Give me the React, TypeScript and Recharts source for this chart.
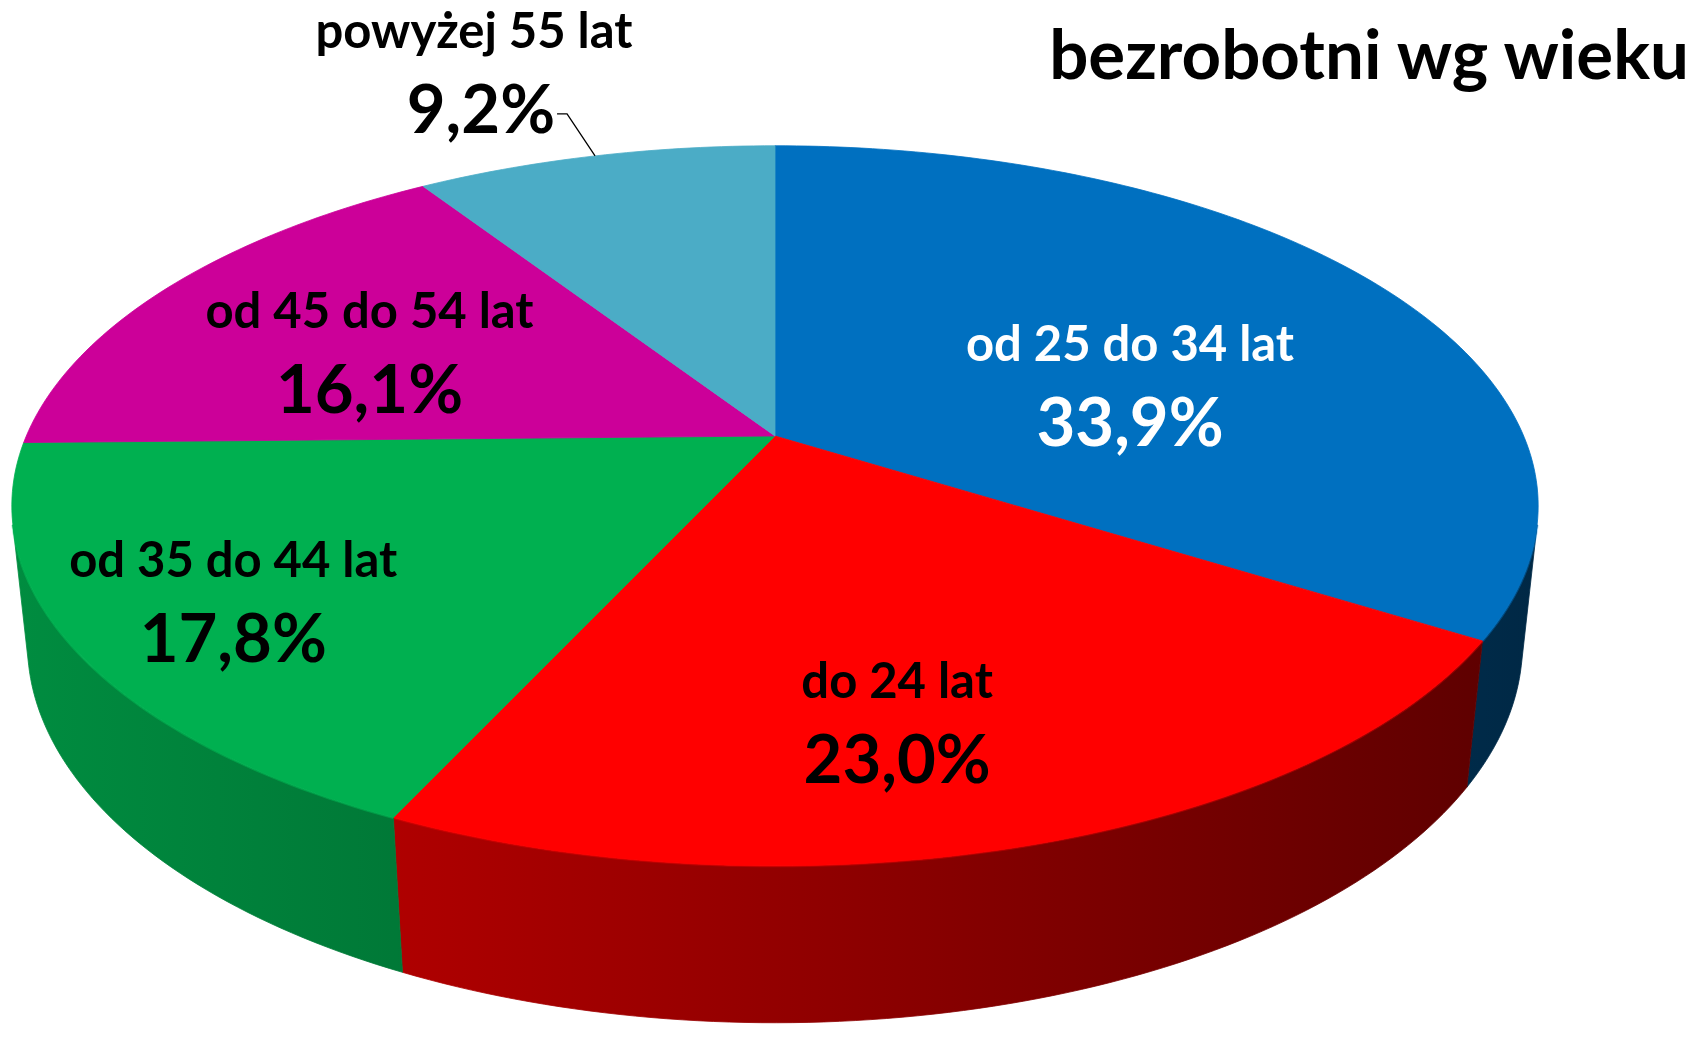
import React from "react";
import { PieChart, Pie } from "recharts";

// bezrobotni wg wieku (udział w %)
const categories = ["od 25 do 34 lat", "do 24 lat", "od 35 do 44 lat", "od 45 do 54 lat", "powyżej 55 lat"];
const shares = [33.9, 23.0, 17.8, 16.1, 9.2];
const colors = ["#0070c0", "#ff0000", "#00b050", "#cc0099", "#4bacc6"];
const labelColors = ["#ffffff", "#000000", "#000000", "#000000", "#000000"];

const data = categories.map((name, i) => ({ name, value: shares[i], fill: colors[i] }));

const W = 1698;
const H = 1041;
const FONT = "Lato, 'Open Sans', sans-serif";

// fake 3D: disc of radius 1 seen by a perspective camera
const CX = 775;
const CY = 436;
const FOCAL_X = 3441;
const FOCAL_Y = 3504;
const DIST = 4.596;
const TILT_SIN = 0.4545;
const TILT_COS = 0.891;
const THICK = 0.2036;

// label tweaks (px), Excel puts them a bit off the centroid
const LABEL_R = 0.6;
const labelNudge = [
  [-17, 62],
  [-22, 80],
  [-140, 62],
  [-29, 26],
];

const RAD = Math.PI / 180;

function project(angle: number, r: number, y: number): [number, number] {
  const X = r * Math.cos(angle * RAD);
  const Z = -r * Math.sin(angle * RAD);
  const d = DIST - (y * TILT_SIN + Z * TILT_COS);
  return [CX + (FOCAL_X * X) / d, CY - (FOCAL_Y * (y * TILT_COS - Z * TILT_SIN)) / d];
}

function arc(a0: number, a1: number, r: number, y: number) {
  const n = Math.max(2, Math.ceil(Math.abs(a1 - a0)));
  const pts: [number, number][] = [];
  for (let k = 0; k <= n; k++) pts.push(project(a0 + ((a1 - a0) * k) / n, r, y));
  return pts;
}

const toPath = (pts: [number, number][]) =>
  pts.map((p, k) => `${k ? "L" : "M"}${p[0].toFixed(2)},${p[1].toFixed(2)}`).join(" ");

function shade(hex: string, f: number) {
  const n = parseInt(hex.slice(1), 16);
  const c = [(n >> 16) & 255, (n >> 8) & 255, n & 255].map((v) => Math.min(255, Math.round(v * f)));
  return `rgb(${c[0]},${c[1]},${c[2]})`;
}

// side wall only shows where it faces the camera
const edgeAngle = Math.asin(1 / (DIST * TILT_COS)) / RAD;
const VIS_LO = -180 + edgeAngle;
const VIS_HI = -edgeAngle;

const WallShape = (props: any) => {
  const { startAngle, endAngle, fill } = props;
  const i = categories.indexOf(props.name ?? props.payload?.name);
  const lo = Math.max(Math.min(startAngle, endAngle), VIS_LO);
  const hi = Math.min(Math.max(startAngle, endAngle), VIS_HI);
  if (hi <= lo) return <g />;
  const top = arc(hi, lo, 1, 0);
  const bottom = arc(lo, hi, 1, -THICK);
  return (
    <g>
      <path d={toPath([...top, ...bottom]) + " Z"} fill={`url(#wall-${i})`} stroke={`url(#wall-${i})`} strokeWidth={0.8} />
      <path d={toPath(top)} fill="none" stroke={shade(fill, 1.25)} strokeOpacity={0.35} strokeWidth={3} />
    </g>
  );
};

const TopShape = (props: any) => {
  const { startAngle, endAngle, fill } = props;
  const pts = [project(0, 0, 0), ...arc(startAngle, endAngle, 1, 0)];
  return <path d={toPath(pts) + " Z"} fill={fill} stroke={fill} strokeWidth={0.8} />;
};

const pct = (v: number) => v.toFixed(1).replace(".", ",") + "%";

const renderLabel = (props: any) => {
  const { midAngle, index, value, name } = props;
  if (index === 4) {
    const [rx, ry] = project(midAngle, 1, 0);
    const ex = rx - 28;
    const ey = ry - 42;
    return (
      <g>
        <polyline points={`${rx},${ry} ${ex},${ey} ${ex - 10},${ey}`} fill="none" stroke="#000" strokeWidth={1.3} />
        <text x={ex - 12} y={ey + 19} textAnchor="end" fontFamily={FONT} fontWeight={700} fontSize={67} fill="#000">
          {pct(value)}
        </text>
        <text x={ex - 93} y={ey - 66} textAnchor="middle" fontFamily={FONT} fontWeight={700} fontSize={49} fill="#000">
          {name}
        </text>
      </g>
    );
  }
  const [px, py] = project(midAngle, LABEL_R, 0);
  const ax = px + labelNudge[index][0];
  const ay = py + labelNudge[index][1];
  return (
    <g>
      <text x={ax} y={ay - 42} textAnchor="middle" fontFamily={FONT} fontWeight={700} fontSize={49} fill={labelColors[index]}>
        {name}
      </text>
      <text x={ax} y={ay + 43} textAnchor="middle" fontFamily={FONT} fontWeight={700} fontSize={67} fill={labelColors[index]}>
        {pct(value)}
      </text>
    </g>
  );
};

export default function App() {
  return (
    <div style={{ position: "absolute", left: 0, top: 0, width: W, height: H, background: "#fff" }}>
      <PieChart width={W} height={H} margin={{ top: 0, right: 0, bottom: 0, left: 0 }}>
        <defs>
          {colors.map((c, i) => (
            <linearGradient key={i} id={`wall-${i}`} gradientUnits="userSpaceOnUse" x1={0} y1={0} x2={W} y2={0}>
              <stop offset="0%" stopColor={shade(c, 0.8)} />
              <stop offset="100%" stopColor={shade(c, 0.31)} />
            </linearGradient>
          ))}
        </defs>
        <Pie
          data={data}
          dataKey="value"
          nameKey="name"
          cx={CX}
          cy={CY}
          outerRadius={300}
          startAngle={90}
          endAngle={-270}
          stroke="none"
          shape={WallShape}
          activeShape={WallShape}
          inactiveShape={WallShape}
          isAnimationActive={false}
        />
        <Pie
          data={data}
          dataKey="value"
          nameKey="name"
          cx={CX}
          cy={CY}
          outerRadius={300}
          startAngle={90}
          endAngle={-270}
          stroke="none"
          shape={TopShape}
          activeShape={TopShape}
          inactiveShape={TopShape}
          label={renderLabel}
          labelLine={false}
          isAnimationActive={false}
        />
      </PieChart>
      <div
        style={{
          position: "absolute",
          right: W - 1689,
          top: 13,
          fontFamily: FONT,
          fontWeight: 700,
          fontSize: 69,
          lineHeight: "80px",
          color: "#000",
          whiteSpace: "nowrap",
        }}
      >
        bezrobotni wg wieku
      </div>
    </div>
  );
}
